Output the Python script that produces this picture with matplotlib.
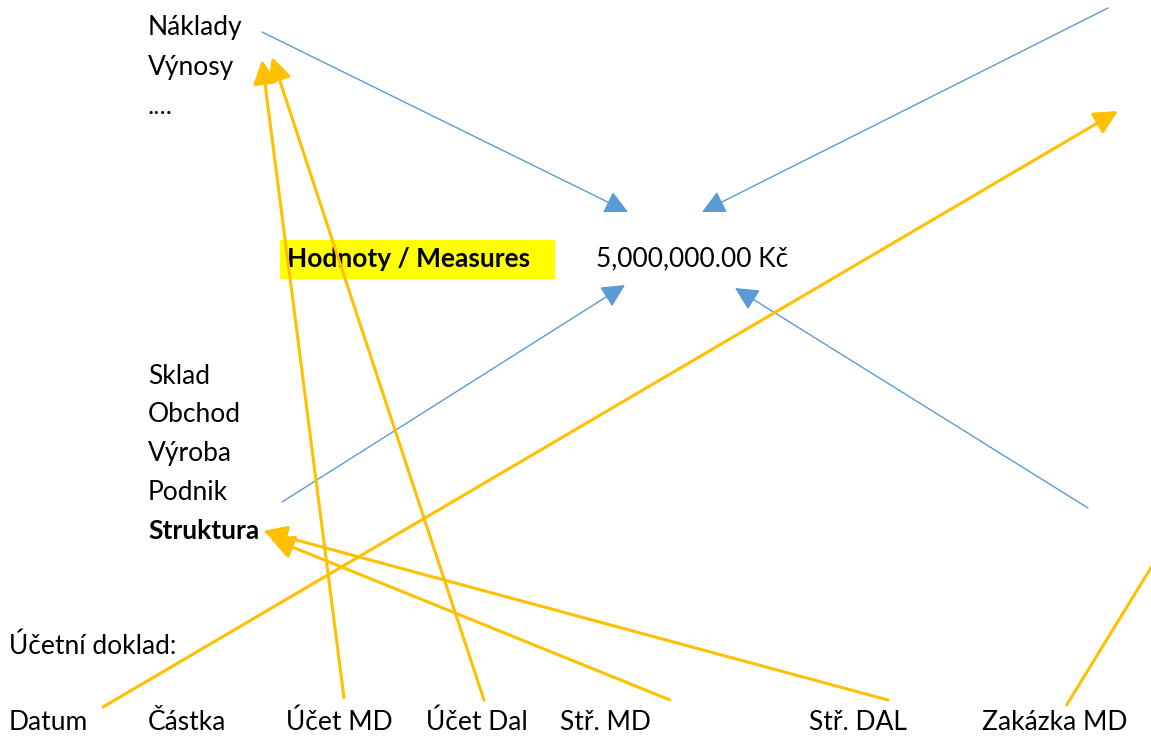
import matplotlib.pyplot as plt
from matplotlib.patches import Rectangle

plt.rcParams["font.family"] = ["Lato", "DejaVu Sans"]

W, H = 1151, 742

# textové bloky
dimenze_ucty = ["Náklady", "Výnosy", "...."]
dimenze_struktura = ["Sklad", "Obchod", "Výroba", "Podnik", "Struktura"]
doklad_pole = ["Datum", "Částka", "Účet MD", "Účet Dal", "Stř. MD", "Stř. DAL", "Zakázka MD"]
doklad_x = [9, 148, 286, 426, 560, 809, 982]
hodnota = "5,000,000.00 Kč"
measures = "Hodnoty / Measures"

# spojnice (odkud -> kam) v pixelech obrázku
modre_sipky = [
    ((262, 32), (628, 212)),
    ((1108, 8), (702, 212)),
    ((282, 502), (625, 285)),
    ((1088, 508), (735, 288)),
]
zlute_sipky = [
    ((344, 698), (262, 60)),
    ((484, 700), (272, 57)),
    ((103, 707), (1118, 111)),
    ((670, 700), (270, 538)),
    ((888, 700), (263, 531)),
]
zlute_cary = [((1066, 706), (1160, 553))]

fig = plt.figure(figsize=(W / 100, H / 100), dpi=100)
ax = fig.add_axes([0, 0, 1, 1])
ax.set_xlim(0, W)
ax.set_ylim(H, 0)
ax.axis("off")

fs = 19
for i, t in enumerate(dimenze_ucty):
    ax.text(148, 28 + i * 39, t, fontsize=fs, va="center", ha="left")
for i, t in enumerate(dimenze_struktura):
    ax.text(148, 376 + i * 38.8, t, fontsize=fs, va="center", ha="left",
            fontweight="bold" if t == "Struktura" else "normal")

ax.add_patch(Rectangle((280, 240), 275, 39, facecolor="#FFFF00", edgecolor="none", zorder=0))
ax.text(287, 259, measures, fontsize=fs, fontweight="bold", va="center", ha="left")
ax.text(596, 259, hodnota, fontsize=fs, va="center", ha="left")

ax.text(9, 646, "Účetní doklad:", fontsize=fs, va="center", ha="left")
for t, x in zip(doklad_pole, doklad_x):
    ax.text(x, 722, t, fontsize=fs, va="center", ha="left")

for (x0, y0), (x1, y1) in modre_sipky:
    ax.annotate("", xy=(x1, y1), xytext=(x0, y0),
                arrowprops=dict(arrowstyle="-|>,head_length=0.9,head_width=0.45",
                                color="#5B9BD5", lw=1.0, shrinkA=0, shrinkB=0,
                                mutation_scale=16))
for (x0, y0), (x1, y1) in zlute_sipky:
    ax.annotate("", xy=(x1, y1), xytext=(x0, y0),
                arrowprops=dict(arrowstyle="-|>,head_length=0.9,head_width=0.45",
                                color="#FFC000", lw=2.2, shrinkA=0, shrinkB=0,
                                mutation_scale=16))
for (x0, y0), (x1, y1) in zlute_cary:
    ax.plot([x0, x1], [y0, y1], color="#FFC000", lw=2.2, solid_capstyle="butt")

fig.savefig("out.png", dpi=100)
